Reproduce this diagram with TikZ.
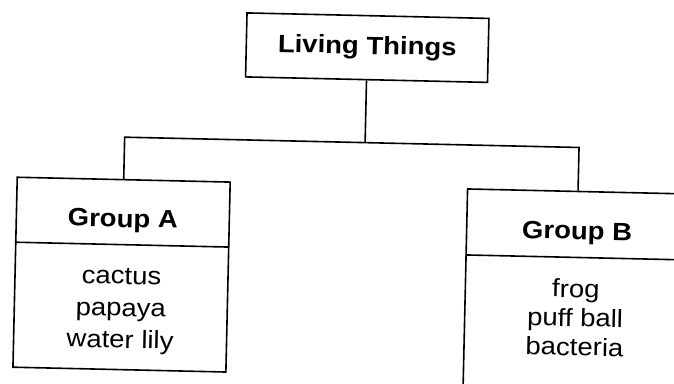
\documentclass[tikz,border=0pt]{standalone}
\usepackage{fontspec}
\setmainfont[FakeStretch=1.1]{Liberation Sans}
\usetikzlibrary{positioning}
\tikzset{
  every picture/.append style={line width=1.6pt},
  every node/.append style={font=\fontsize{25}{32}\selectfont},
}
\tikzset{
  box/.style={draw, inner sep=0pt},
  head/.style={anchor=base, font=\fontsize{25}{32}\selectfont\bfseries},
  list/.style={anchor=base, align=center}
}

\begin{document}
\begin{tikzpicture}[x=1pt, y=-1pt]
\useasboundingbox (0,0) rectangle (674,383);
\begin{scope}[rotate around={-1.3:(337,191)}, transform shape]
% root of the tree
\node[box, minimum width=242pt, minimum height=64pt, font=\fontsize{25}{32}\selectfont\bfseries] (living) at (364,47) {Living Things};
% the two groups
\node[box, minimum width=213pt, minimum height=190pt] (grpA) at (123.5,279.5) {};
\node[box, minimum width=221pt, minimum height=196pt] (grpB) at (578,284) {};
\coordinate (divAl) at (17,249.5);
\coordinate (divAr) at (230,249.5);
\coordinate (divBl) at (467.5,252);
\coordinate (divBr) at (688.5,252);
\draw (divAl) -- (divAr);
\draw (divBl) -- (divBr);
\node[head] (headA) at (123.5,232) {Group A};
\node[head] (headB) at (578,234) {Group B};
% base of a list node = its last line
\node[list] (listA) at (123.5,353) {cactus\\papaya\\water lily};
\node[list, font=\fontsize{25}{29}\selectfont] (listB) at (578,350) {frog\\puff ball\\bacteria};
% connectors
\coordinate (fork) at (364,142);
\coordinate (forkA) at (123.5,142);
\coordinate (forkB) at (578,142);
\draw (living.south) -- (fork);
\draw (grpA.north) -- (forkA) -- (forkB) -- (grpB.north);
\end{scope}
\end{tikzpicture}
\end{document}
